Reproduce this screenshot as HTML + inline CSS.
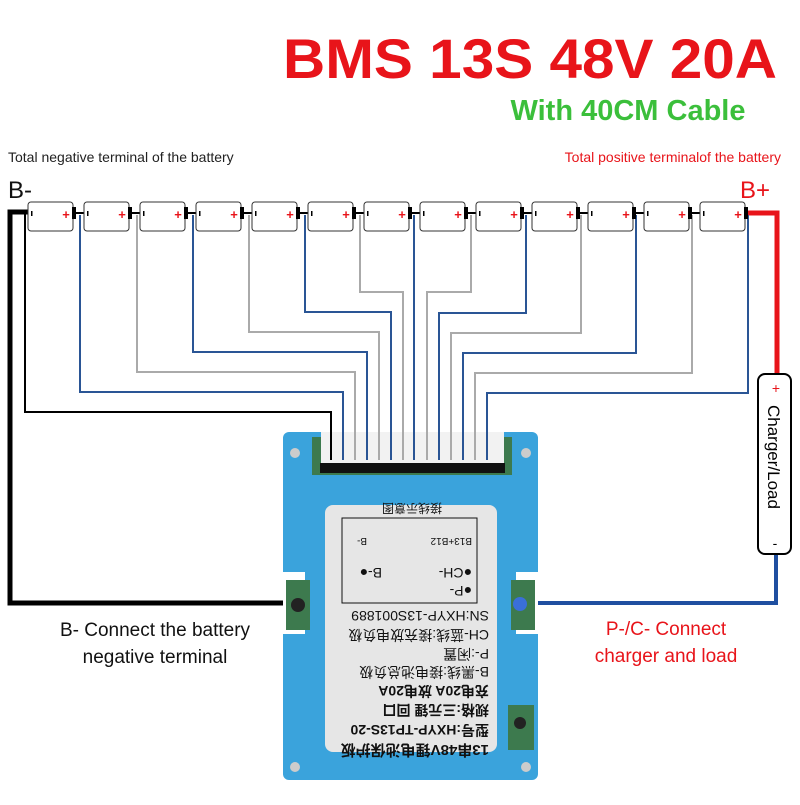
<!DOCTYPE html>
<html><head><meta charset="utf-8"><style>
body{margin:0;background:#fff;width:800px;height:800px;overflow:hidden;font-family:"Liberation Sans",sans-serif}
</style></head><body>
<svg width="800" height="800" xmlns="http://www.w3.org/2000/svg" font-family="Liberation Sans, Noto Sans CJK SC, sans-serif">
<defs>
<g id="cell">
<rect x="0" y="0" width="45" height="29" rx="3" fill="#fff" stroke="#333" stroke-width="1"/>
<rect x="3" y="9" width="1.5" height="5" fill="#000"/>
<text x="38" y="17" text-anchor="middle" font-size="13" font-weight="bold" fill="#e8141a">+</text>
<rect x="44" y="5" width="4" height="12" fill="#000"/>
</g>
</defs>
<text x="530" y="78" text-anchor="middle" font-size="56" font-weight="bold" fill="#e8141a" textLength="494" lengthAdjust="spacingAndGlyphs">BMS 13S 48V 20A</text>
<text x="628" y="120" text-anchor="middle" font-size="29" font-weight="bold" fill="#3bbf3b">With 40CM Cable</text>
<text x="8" y="162" font-size="14" fill="#222">Total negative terminal of the battery</text>
<text x="781" y="162" text-anchor="end" font-size="14" fill="#e8141a">Total positive terminalof the battery</text>
<text x="8" y="198" font-size="24" fill="#111">B-</text>
<text x="740" y="198" font-size="24" fill="#e8141a">B+</text>

<polyline points="28,212 10,212 10,603 292,603" fill="none" stroke="#000" stroke-width="5"/>
<polyline points="745,213 777,213 777,374" fill="none" stroke="#e8141a" stroke-width="5"/>
<polyline points="776,554 776,603 522,603" fill="none" stroke="#1f4fa0" stroke-width="4"/>

<rect x="283" y="432" width="255" height="348" rx="6" fill="#3aa3dc"/>
<rect x="283" y="572" width="22" height="62" fill="#fff"/>
<rect x="516" y="572" width="22" height="62" fill="#fff"/>
<rect x="286" y="580" width="24" height="50" fill="#3d7a4e"/>
<rect x="511" y="580" width="24" height="50" fill="#3d7a4e"/>
<rect x="508" y="705" width="26" height="45" fill="#3d7a4e"/>
<circle cx="520" cy="723" r="6" fill="#222"/>
<circle cx="298" cy="605" r="7" fill="#222"/>
<circle cx="520" cy="604" r="7" fill="#3a6fd8"/>
<circle cx="295" cy="453" r="5" fill="#ccc"/><circle cx="526" cy="453" r="5" fill="#ccc"/>
<circle cx="295" cy="767" r="5" fill="#ccc"/><circle cx="526" cy="767" r="5" fill="#ccc"/>
<rect x="312" y="437" width="200" height="38" fill="#3d7a4e"/>
<rect x="321" y="432" width="183" height="33" fill="#f2f2f2"/>
<rect x="320" y="463" width="185" height="10" fill="#111"/>

<g fill="none" stroke-width="2">
<polyline points="25,213 25,412 331,412 331,460" stroke="#000"/>
<polyline points="80,215 80,392 343,392 343,460" stroke="#2a5595"/>
<polyline points="137,215 137,372 355,372 355,460" stroke="#aaa"/>
<polyline points="193,215 193,352 367,352 367,460" stroke="#2a5595"/>
<polyline points="249,215 249,332 379,332 379,460" stroke="#aaa"/>
<polyline points="305,215 305,312 391,312 391,460" stroke="#2a5595"/>
<polyline points="360,215 360,292 403,292 403,460" stroke="#aaa"/>
<polyline points="414,215 414,460" stroke="#2a5595"/>
<polyline points="471,215 471,292 427,292 427,460" stroke="#aaa"/>
<polyline points="526,215 526,313 439,313 439,460" stroke="#2a5595"/>
<polyline points="581,215 581,333 451,333 451,460" stroke="#aaa"/>
<polyline points="636,215 636,353 463,353 463,460" stroke="#2a5595"/>
<polyline points="692,215 692,373 475,373 475,460" stroke="#aaa"/>
<polyline points="748,215 748,393 487,393 487,460" stroke="#2a5595"/>
</g>

<g stroke="#000" stroke-width="2"><line x1="73" y1="213" x2="85" y2="213"/><line x1="129" y1="213" x2="141" y2="213"/><line x1="185" y1="213" x2="197" y2="213"/><line x1="241" y1="213" x2="253" y2="213"/><line x1="297" y1="213" x2="309" y2="213"/><line x1="353" y1="213" x2="365" y2="213"/><line x1="409" y1="213" x2="421" y2="213"/><line x1="465" y1="213" x2="477" y2="213"/><line x1="521" y1="213" x2="533" y2="213"/><line x1="577" y1="213" x2="589" y2="213"/><line x1="633" y1="213" x2="645" y2="213"/><line x1="689" y1="213" x2="701" y2="213"/></g>
<use href="#cell" x="28" y="202"/><use href="#cell" x="84" y="202"/><use href="#cell" x="140" y="202"/><use href="#cell" x="196" y="202"/><use href="#cell" x="252" y="202"/><use href="#cell" x="308" y="202"/><use href="#cell" x="364" y="202"/><use href="#cell" x="420" y="202"/><use href="#cell" x="476" y="202"/><use href="#cell" x="532" y="202"/><use href="#cell" x="588" y="202"/><use href="#cell" x="644" y="202"/><use href="#cell" x="700" y="202"/>

<rect x="758" y="374" width="33" height="180" rx="7" fill="#fff" stroke="#000" stroke-width="2"/>
<text x="776" y="393" text-anchor="middle" font-size="14" fill="#e8141a">+</text>
<text transform="translate(768,405) rotate(90)" font-size="17" fill="#000">Charger/Load</text>
<text x="775" y="548" text-anchor="middle" font-size="14" fill="#000">-</text>

<rect x="325" y="505" width="172" height="247" rx="8" fill="#e6e6e6"/>
<g transform="rotate(180 411 628)" font-size="14" fill="#111">
<text x="333" y="511" font-size="15" font-weight="bold">13串48V锂电池保护板</text>
<text x="333" y="531" font-weight="bold">型号:HXYP-TP13S-20</text>
<text x="333" y="551" font-weight="bold">规格:三元锂 回口</text>
<text x="333" y="570" font-weight="bold">充电20A  放电20A</text>
<text x="333" y="589">B-黑线:接电池总负极</text>
<text x="333" y="607">P-:闲置</text>
<text x="333" y="626">CH-蓝线:接充放电负极</text>
<text x="333" y="645">SN:HXYP-13S001889</text>
<rect x="345" y="653" width="135" height="85" fill="none" stroke="#111"/>
<text x="350" y="670">●P-</text><text x="350" y="688">●CH-</text><text x="440" y="688">B-●</text>
<text x="350" y="718" font-size="10">B13+B12</text><text x="455" y="718" font-size="10">B-</text>
<text x="380" y="752" font-size="12">接线示意图</text>
</g>

<text x="155" y="636" text-anchor="middle" font-size="19" fill="#111">B- Connect the battery</text>
<text x="155" y="663" text-anchor="middle" font-size="19" fill="#111">negative terminal</text>
<text x="666" y="635" text-anchor="middle" font-size="19" fill="#e8141a">P-/C- Connect</text>
<text x="666" y="662" text-anchor="middle" font-size="19" fill="#e8141a">charger and load</text>
</svg>
</body></html>
